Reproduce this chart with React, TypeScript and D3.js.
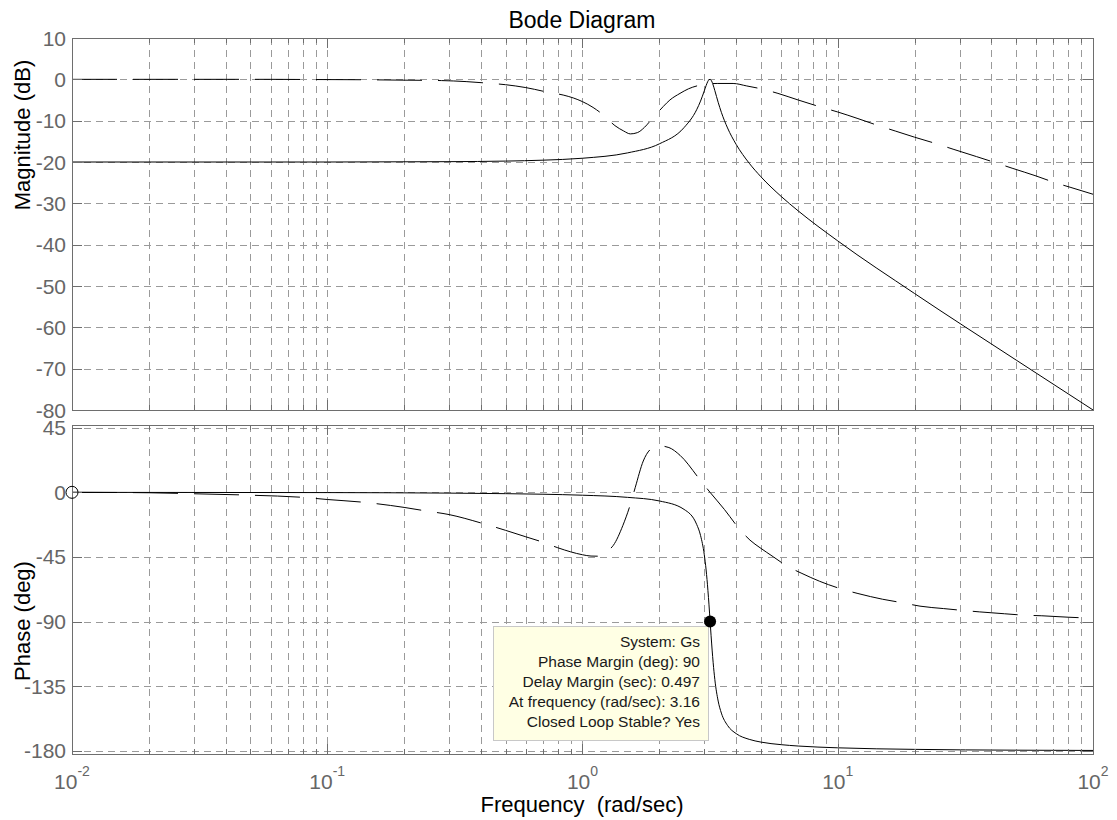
import React from 'react';
import * as d3 from 'd3';

// ---------- data ----------
// Solid curve (System: Gs)
const solidFreq = [0.01, 0.1, 0.3, 0.5, 0.7, 1, 1.5, 2, 2.5, 2.8, 2.9, 3.0, 3.05, 3.1, 3.13, 3.162, 3.19, 3.22, 3.25, 3.3, 3.4, 3.5, 3.7, 4, 4.5, 5, 6, 7, 10, 20, 50, 100];
const solidMagDb = [-20.0, -20.0, -19.92, -19.78, -19.56, -19.09, -17.8, -15.61, -11.67, -7.36, -5.27, -2.79, -1.51, -0.46, -0.09, 0, -0.21, -0.69, -1.38, -2.74, -5.55, -7.99, -11.76, -15.75, -20.3, -23.57, -28.32, -31.83, -39.09, -51.82, -67.92, -79.99];
const solidPhaseDeg = [-0.02, -0.18, -0.55, -0.93, -1.33, -2.01, -3.5, -6.01, -11.9, -22.3, -30.0, -43.5, -54.1, -68.3, -78.4, -90, -99.9, -109.9, -118.7, -130.5, -145.4, -153.8, -162.4, -168.1, -172.1, -174.0, -175.8, -176.75, -178.0, -179.07, -179.64, -179.82];

// Dashed curve
const dashMagFreq = [0.01, 0.03, 0.06, 0.09, 0.14, 0.2, 0.28, 0.35, 0.42, 0.5, 0.6, 0.73, 0.84, 0.92, 1.0, 1.1, 1.2, 1.34, 1.45, 1.54, 1.64, 1.75, 1.87, 2.0, 2.07, 2.2, 2.41, 2.6, 2.89, 3.1, 3.37, 3.89, 4.4, 5.05, 5.83, 7.0, 8.68, 10.0, 12.0, 14.6, 16.8, 20.0, 24.7, 28.3, 35.0, 42.1, 48.2, 60.0, 71.0, 81.3, 100];
const dashMagDb = [0, 0, 0, -0.05, -0.1, -0.2, -0.3, -0.55, -0.9, -1.3, -2.0, -3.1, -3.8, -4.5, -5.4, -6.8, -8.5, -11.2, -12.5, -13.2, -12.9, -11.6, -9.6, -7.6, -6.6, -5.0, -3.4, -2.3, -1.4, -1.1, -1.0, -1.0, -1.6, -2.35, -3.4, -5.0, -6.8, -7.9, -9.5, -11.3, -12.5, -14.0, -15.7, -16.9, -18.7, -20.3, -21.5, -23.4, -25.0, -26.1, -27.8];
const dashPhaseFreq = [0.01, 0.02, 0.03, 0.05, 0.08, 0.1, 0.14, 0.2, 0.24, 0.3, 0.41, 0.5, 0.6, 0.69, 0.8, 0.9, 1.0, 1.08, 1.15, 1.19, 1.25, 1.32, 1.44, 1.54, 1.61, 1.73, 1.91, 2.01, 2.18, 2.41, 2.89, 3.16, 3.6, 4.07, 4.53, 4.96, 5.6, 6.33, 7.24, 8.5, 10.5, 12.0, 15.0, 18.0, 21.0, 26.0, 31.0, 36.0, 45.0, 54.0, 63.0, 80.0, 100];
const dashPhaseDeg = [0, -0.3, -1, -2, -3.5, -5, -7, -10.5, -12.8, -15.5, -21.9, -26.5, -31, -34.4, -38.6, -41.5, -43.5, -44.4, -44.5, -44, -41, -37, -23, -8.4, 3.5, 21.8, 31.6, 32.3, 31.2, 25.8, 8.6, 0, -12, -24.4, -33.3, -38.6, -45, -51.4, -56.5, -62, -67.7, -70.5, -74.5, -77, -79.3, -81, -82.3, -83.3, -84.6, -85.6, -86, -87, -87.7];

// Ticks
const magTicks = [10, 0, -10, -20, -30, -40, -50, -60, -70, -80];
const phaseTicks = [45, 0, -45, -90, -135, -180];
const decadeExponents = [-2, -1, 0, 1, 2];

// Data tip
const tipFreq = 3.162;
const tipPhase = -90;
const tipLines = ['System: Gs', 'Phase Margin (deg): 90', 'Delay Margin (sec): 0.497', 'At frequency (rad/sec): 3.16', 'Closed Loop Stable? Yes'];
const startMarker = { freq: 0.01, phase: 0 };

const FONT = '"Liberation Sans", Arial, Helvetica, sans-serif';

export default function App() {
  const W = 1117, H = 820;
  const L = 72, R = 1093;
  const magTop = 38, magBot = 410, phTop = 425, phBot = 754;

  const x = d3.scaleLog().domain([0.01, 100]).range([L, R]);
  const yMag = d3.scaleLinear().domain([-80, 10]).range([magBot, magTop]);
  const yPh = d3.scaleLinear().domain([-182.3, 46.9]).range([phBot, phTop]);

  const xMinor: number[] = [];
  for (let e = -2; e <= 1; e++) for (let k = 2; k <= 9; k++) xMinor.push(k * Math.pow(10, e));
  const xMajor = decadeExponents.map(e => Math.pow(10, e));

  const lineMag = d3.line<[number, number]>().x(d => x(d[0])).y(d => yMag(d[1])).curve(d3.curveMonotoneX);
  const linePh = d3.line<[number, number]>().x(d => x(d[0])).y(d => yPh(d[1])).curve(d3.curveMonotoneX);

  const solidMag = lineMag(d3.zip(solidFreq, solidMagDb) as [number, number][]) || '';
  const solidPh = linePh(d3.zip(solidFreq, solidPhaseDeg) as [number, number][]) || '';
  const dashMag = lineMag(d3.zip(dashMagFreq, dashMagDb) as [number, number][]) || '';
  const dashPh = linePh(d3.zip(dashPhaseFreq, dashPhaseDeg) as [number, number][]) || '';

  const gridColor = '#9a9a9a';
  const axisColor = '#6e6e6e';
  const tickLabelColor = '#666';
  const gridDash = '7,5';

  const crisp = (v: number) => Math.round(v) + 0.5;

  const panel = (top: number, bot: number, yScale: any, ticks: number[], key: string) => {
    const els: any[] = [];
    // vertical grid
    [...xMajor, ...xMinor].forEach((f, i) => {
      const px = crisp(x(f));
      if (Math.abs(px - crisp(L)) < 1 || Math.abs(px - crisp(R)) < 1) return;
      els.push(<line key={key + 'vg' + i} x1={px} x2={px} y1={top} y2={bot} stroke={gridColor} strokeDasharray={gridDash} shapeRendering="crispEdges" />);
    });
    // horizontal grid
    ticks.forEach((t, i) => {
      const py = crisp(yScale(t));
      if (Math.abs(py - crisp(top)) < 1 || Math.abs(py - crisp(bot)) < 1) return;
      els.push(<line key={key + 'hg' + i} x1={L} x2={R} y1={py} y2={py} stroke={gridColor} strokeDasharray={gridDash} shapeRendering="crispEdges" />);
    });
    return els;
  };

  const panelTicks = (top: number, bot: number, yScale: any, ticks: number[], key: string) => {
    const els: any[] = [];
    xMajor.forEach((f, i) => {
      const px = crisp(x(f));
      els.push(<line key={key + 'tb' + i} x1={px} x2={px} y1={bot} y2={bot - 10} stroke={axisColor} shapeRendering="crispEdges" />);
      els.push(<line key={key + 'tt' + i} x1={px} x2={px} y1={top} y2={top + 10} stroke={axisColor} shapeRendering="crispEdges" />);
    });
    xMinor.forEach((f, i) => {
      const px = crisp(x(f));
      els.push(<line key={key + 'mb' + i} x1={px} x2={px} y1={bot} y2={bot - 5} stroke={axisColor} shapeRendering="crispEdges" />);
      els.push(<line key={key + 'mt' + i} x1={px} x2={px} y1={top} y2={top + 5} stroke={axisColor} shapeRendering="crispEdges" />);
    });
    ticks.forEach((t, i) => {
      const py = crisp(yScale(t));
      els.push(<line key={key + 'yl' + i} x1={L} x2={L + 10} y1={py} y2={py} stroke={axisColor} shapeRendering="crispEdges" />);
      els.push(<line key={key + 'yr' + i} x1={R} x2={R - 10} y1={py} y2={py} stroke={axisColor} shapeRendering="crispEdges" />);
      els.push(
        <text key={key + 'yt' + i} x={66} y={yScale(t)} dy="0.36em" textAnchor="end" fontSize={21} fill={tickLabelColor}>
          {String(t)}
        </text>
      );
    });
    els.push(<rect key={key + 'box'} x={crisp(L)} y={crisp(top)} width={Math.round(R - L)} height={Math.round(bot - top)} fill="none" stroke={axisColor} shapeRendering="crispEdges" />);
    return els;
  };

  const tipX = x(tipFreq);
  const tipY = yPh(tipPhase);
  const boxL = 493, boxT = 626, boxW = 215, boxH = 114;

  return (
    <svg width={W} height={H} style={{ position: 'absolute', left: 0, top: 0, display: 'block', background: '#fff' }} fontFamily={FONT}>
      <defs>
        <clipPath id="clipMag"><rect x={L} y={magTop} width={R - L} height={magBot - magTop} /></clipPath>
        <clipPath id="clipPh"><rect x={L} y={phTop} width={R - L} height={phBot - phTop} /></clipPath>
      </defs>
      <rect x={0} y={0} width={W} height={H} fill="#fff" />

      {panel(magTop, magBot, yMag, magTicks, 'm')}
      {panel(phTop, phBot, yPh, phaseTicks, 'p')}

      <g clipPath="url(#clipMag)" fill="none" stroke="#000" strokeWidth={1}>
        <path d={dashMag} strokeDasharray="45,16" />
        <path d={solidMag} />
      </g>
      <g clipPath="url(#clipPh)" fill="none" stroke="#000" strokeWidth={1}>
        <path d={dashPh} strokeDasharray="45,16" />
        <path d={solidPh} />
      </g>

      {panelTicks(magTop, magBot, yMag, magTicks, 'm')}
      {panelTicks(phTop, phBot, yPh, phaseTicks, 'p')}

      {/* x tick labels */}
      {decadeExponents.map((e, i) => (
        <text key={'xl' + i} x={x(Math.pow(10, e))} y={789} textAnchor="middle" fontSize={21} fill={tickLabelColor}>
          <tspan>10</tspan>
          <tspan dy={-13} fontSize={14}>{String(e)}</tspan>
        </text>
      ))}

      {/* titles */}
      <text x={582} y={28} textAnchor="middle" fontSize={23} fill="#000">Bode Diagram</text>
      <text x={582} y={812} textAnchor="middle" fontSize={22} fill="#000" style={{ whiteSpace: 'pre' }}>{'Frequency  (rad/sec)'}</text>
      <text transform="translate(30,135) rotate(-90)" textAnchor="middle" fontSize={22} fill="#000">Magnitude (dB)</text>
      <text transform="translate(30,621) rotate(-90)" textAnchor="middle" fontSize={22} fill="#000">Phase (deg)</text>

      {/* start marker */}
      <circle cx={x(startMarker.freq)} cy={yPh(startMarker.phase)} r={6} fill="none" stroke="#000" strokeWidth={1} />

      {/* data tip */}
      <rect x={boxL + 0.5} y={boxT + 0.5} width={boxW} height={boxH} fill="#ffffe4" stroke="#c8c8c8" strokeWidth={1} />
      {tipLines.map((t, i) => (
        <text key={'tip' + i} x={boxL + boxW - 8} y={boxT + 21 + i * 20} textAnchor="end" fontSize={15.5} fill="#1a1a1a">{t}</text>
      ))}
      <circle cx={tipX} cy={tipY} r={6} fill="#000" />
    </svg>
  );
}
